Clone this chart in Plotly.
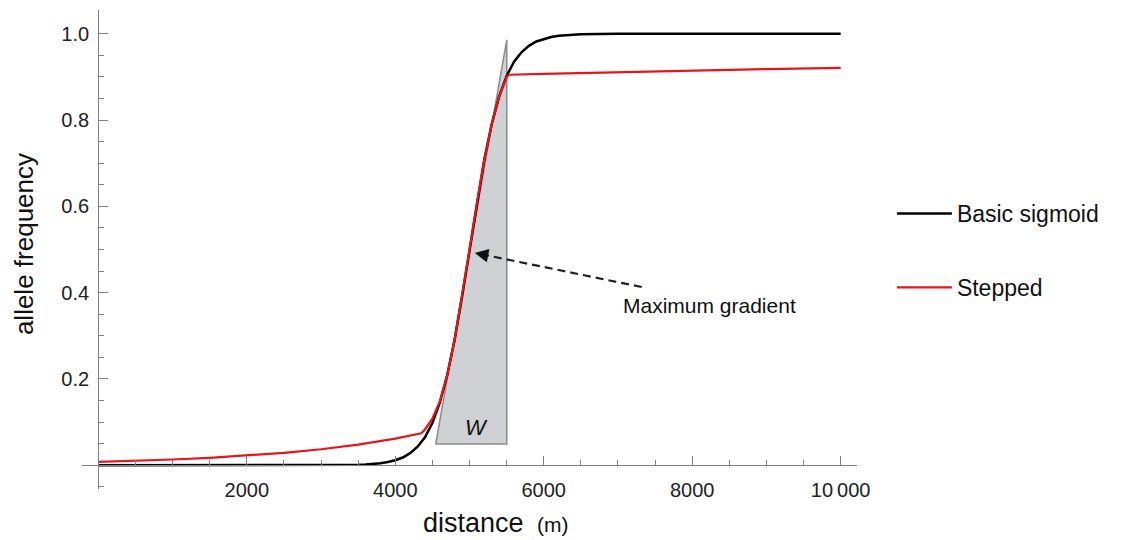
import plotly.graph_objects as go

# ---- data ----
sig_x = [0, 1000, 2000, 2500, 3000, 3250, 3500, 3600, 3750, 3800, 3900, 4000, 4100, 4200, 4300, 4400,
         4500, 4600, 4700, 4800, 4900, 5000, 5100, 5200, 5300, 5400, 5500, 5600, 5700, 5800,
         5900, 6000, 6100, 6200, 6400, 6500, 7000, 8000, 9000, 10000]
sig_y = [0, 0, 0, 0.0001, 0.0001, 0.0004, 0.0013, 0.002, 0.0038, 0.0048, 0.0074, 0.0116, 0.018, 0.028, 0.043, 0.065,
         0.098, 0.145, 0.209, 0.291, 0.391, 0.5, 0.609, 0.709, 0.791, 0.855, 0.902, 0.935, 0.957, 0.972,
         0.982, 0.988, 0.9925, 0.9952, 0.998, 0.9987, 0.9999, 1.0, 1.0, 1.0]

step_x = [0, 500, 1000, 1500, 2000, 2500, 3000, 3500, 4000, 4200, 4350, 4400, 4500, 4600, 4700,
          4800, 4900, 5000, 5100, 5200, 5300, 5400, 5500, 5530, 6000, 7000, 8000, 9000, 10000]
step_y = [0.008, 0.0104, 0.0134, 0.0173, 0.0223, 0.0288, 0.0371, 0.0479, 0.0619, 0.0688, 0.074, 0.083,
          0.108, 0.148, 0.209, 0.291, 0.391, 0.5, 0.609, 0.709, 0.791, 0.855, 0.899, 0.905, 0.907,
          0.911, 0.915, 0.918, 0.921]

tri_x = [4545, 5502, 5502, 4545]
tri_y = [0.049, 0.049, 0.986, 0.049]

arrow_tail = (7320, 0.413)
arrow_tip = (5071, 0.492)
label_pos = (8236, 0.371)
w_pos = (5100, 0.088)

x_tickvals = [2000, 4000, 6000, 8000, 10000]
x_ticktext = ["2000", "4000", "6000", "8000", "10\u2009000"]
y_tickvals = [0.2, 0.4, 0.6, 0.8, 1.0]
y_ticktext = ["0.2", "0.4", "0.6", "0.8", "1.0"]

X_RANGE = [-220, 10220]
Y_RANGE = [-0.055, 1.055]

FONT = "Liberation Sans, Arial, sans-serif"
AXIS_COLOR = "#808080"

fig = go.Figure()

# gradient triangle
fig.add_trace(go.Scatter(x=tri_x, y=tri_y, mode="lines", fill="toself",
                         fillcolor="#cfd1d5", line=dict(color="#8a8a8a", width=1.5),
                         showlegend=False, hoverinfo="skip"))

fig.add_trace(go.Scatter(x=sig_x, y=sig_y, mode="lines", name="Basic sigmoid",
                         line=dict(color="#000000", width=2.5), legendgroup="a"))
fig.add_trace(go.Scatter(x=step_x, y=step_y, mode="lines", name="Stepped",
                         line=dict(color="#e8141b", width=2.2), legendgroup="b"))

# dashed arrow shaft
fig.add_trace(go.Scatter(x=[arrow_tail[0], arrow_tip[0] + 120], y=[arrow_tail[1], arrow_tip[1] - 0.004],
                         mode="lines", line=dict(color="#222222", width=2.2, dash="8px,5px"),
                         showlegend=False, hoverinfo="skip"))

fig.add_annotation(x=arrow_tip[0], y=arrow_tip[1], ax=15, ay=3, axref="pixel", ayref="pixel",
                   text="", showarrow=True, arrowhead=2, arrowsize=1.7, arrowwidth=1.6,
                   arrowcolor="#111111")

fig.add_annotation(x=label_pos[0], y=label_pos[1], text="Maximum gradient", showarrow=False,
                   font=dict(family=FONT, size=21, color="#111111"))
fig.add_annotation(x=w_pos[0], y=w_pos[1], text="<i>W</i>", showarrow=False,
                   font=dict(family=FONT, size=22, color="#111111"))

# axis titles (paper coordinates, outside plot area)
fig.add_annotation(x=0.533, y=-0.072, xref="paper", yref="paper",
                   xanchor="center", yanchor="middle",
                   text="distance <span style='font-size:21px'> (m)</span>",
                   showarrow=False, font=dict(family=FONT, size=27, color="#111111"))
fig.add_annotation(x=-0.075, y=0.511, xref="paper", yref="paper",
                   xanchor="center", yanchor="middle",
                   text="allele frequency", textangle=-90,
                   showarrow=False, font=dict(family=FONT, size=26, color="#111111"))

x_minor = [v for v in range(0, 10001, 500) if v % 2000 != 0]
y_minor = [round(-0.05 + 0.05 * i, 2) for i in range(22) if round(-0.05 + 0.05 * i, 2) not in y_tickvals]

fig.update_layout(
    width=1146, height=540,
    margin=dict(l=82, r=289, t=10, b=51, autoexpand=False),
    paper_bgcolor="white", plot_bgcolor="white",
    font=dict(family=FONT, color="#222222"),
    xaxis=dict(range=X_RANGE, anchor="free", position=0.055 / 1.11,
               showline=True, linecolor=AXIS_COLOR, linewidth=1.3,
               showgrid=False, zeroline=False,
               ticks="inside", ticklen=9, tickwidth=1.2, tickcolor=AXIS_COLOR,
               tickmode="array", tickvals=x_tickvals, ticktext=x_ticktext,
               tickfont=dict(family=FONT, size=20, color="#222222"),
               ticklabelstandoff=7,
               minor=dict(tickmode="array", tickvals=x_minor, ticks="inside", ticklen=5,
                          tickwidth=1.1, tickcolor=AXIS_COLOR, showgrid=False)),
    yaxis=dict(range=Y_RANGE, anchor="free", position=220 / 10440,
               showline=True, linecolor=AXIS_COLOR, linewidth=1.3,
               showgrid=False, zeroline=False,
               ticks="inside", ticklen=9, tickwidth=1.2, tickcolor=AXIS_COLOR,
               tickmode="array", tickvals=y_tickvals, ticktext=y_ticktext,
               tickfont=dict(family=FONT, size=20, color="#222222"),
               ticklabelstandoff=5,
               minor=dict(tickmode="array", tickvals=y_minor, ticks="inside", ticklen=5,
                          tickwidth=1.1, tickcolor=AXIS_COLOR, showgrid=False)),
    legend=dict(x=1.045, y=0.62, xanchor="left", yanchor="top",
                font=dict(family=FONT, size=23, color="#111111"),
                traceorder="grouped", tracegroupgap=41, itemwidth=55,
                bgcolor="rgba(0,0,0,0)"),
    showlegend=True,
)

fig.write_html("out.html")
